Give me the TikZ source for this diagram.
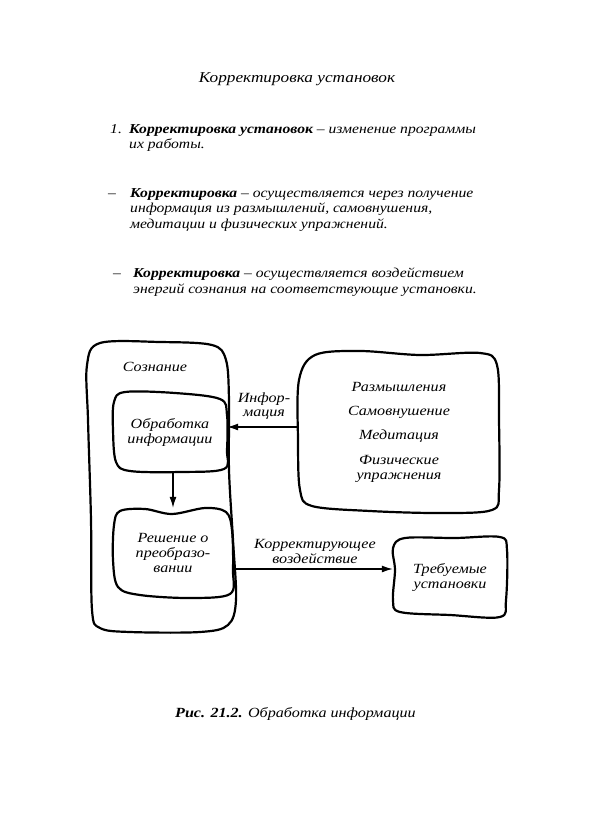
\documentclass[tikz,border=0pt]{standalone}
\usepackage{fontspec}
\setmainfont{Liberation Serif}[FakeStretch=1.15]
\usetikzlibrary{arrows.meta}
\begin{document}
\begin{tikzpicture}[x=1pt,y=-1pt,
  txt/.style={font=\fontsize{13.6}{15}\selectfont\itshape, inner sep=0pt, anchor=base west},
  boxtxt/.style={font=\fontsize{14}{15}\selectfont\itshape, inner sep=0pt, align=center, draw=none},
  outline/.style={line width=2.2pt, line join=round},
  arr/.style={line width=1.3pt, -{Latex[length=11pt,width=7pt]}}]
\useasboundingbox[fill=white] (0,0) rectangle (591,820);

% header text
\node[txt, anchor=base, font=\fontsize{15}{16}\selectfont\itshape] (title) at (297,82) {Корректировка установок};
\node[txt] (t1n) at (110,133) {1.};
\node[txt] (t1a) at (129,133) {\textbf{Корректировка установок} – изменение программы};
\node[txt] (t1b) at (129,148.3) {их работы.};
\node[txt] (t2d) at (108,197) {–};
\node[txt] (t2a) at (130,197) {\textbf{Корректировка} – осуществляется через получение};
\node[txt] (t2b) at (130,212.5) {информация из размышлений, самовнушения,};
\node[txt] (t2c) at (130,228) {медитации и физических упражнений.};
\node[txt] (t3d) at (113,277) {–};
\node[txt] (t3a) at (133,277) {\textbf{Корректировка} – осуществляется воздействием};
\node[txt] (t3b) at (133,293) {энергий сознания на соответствующие установки.};

% boxes (named nodes) and their outlines
\node[boxtxt, minimum width=149pt, minimum height=290pt] (soz) at (161.5,487) {};
\node[txt, anchor=base, font=\fontsize{14}{15}\selectfont\itshape] (sozl) at (155,371) {Сознание};
\draw[outline] plot[smooth cycle, tension=0.55] coordinates {
  (100,343) (160,342) (212,345) (226,360) (229,400) (229,470) (233,540) (236,600)
  (228,625) (200,632) (130,632) (100,628) (92,610) (91,520) (88,420) (87,365)};

\node[boxtxt, minimum width=114pt, minimum height=80pt] (obr) at (170,432) {Обработка\\информации};
\draw[outline] plot[smooth cycle, tension=0.55] coordinates {
  (125,392) (175,393) (220,399) (227,415) (227,450) (224,469) (180,472) (130,471)
  (116,462) (113,430) (114,402)};

\node[boxtxt, minimum width=120pt, minimum height=90pt] (resh) at (173,553) {Решение о\\преобразо-\\вании};
\draw[outline] plot[smooth cycle, tension=0.55] coordinates {
  (120,511) (145,509) (172,514) (205,508) (226,512) (232,530) (233,570) (230,594)
  (190,598) (140,595) (118,587) (113,560) (114,525)};

\node[boxtxt, minimum width=201pt, minimum height=161pt] (ras) at (399,432)
  {Размышления\\[9pt]Самовнушение\\[9pt]Медитация\\[10pt]Физические\\упражнения};
\draw[outline] plot[smooth cycle, tension=0.55] coordinates {
  (315,355) (360,351) (420,355) (480,353) (497,365) (499,420) (499,490) (492,510)
  (440,513) (370,511) (312,506) (300,490) (298,440) (299,380)};

\node[boxtxt, minimum width=114pt, minimum height=80pt] (treb) at (450,577) {Требуемые\\установки};
\draw[outline] plot[smooth cycle, tension=0.55] coordinates {
  (405,538) (455,538) (500,537) (507,550) (506,600) (500,617) (450,615) (400,612)
  (393,600) (395,570) (393,548)};

% connectors
\draw[arr] ([yshift=5pt]ras.west) -- ([yshift=5pt]ras.west -| obr.east);
\draw[arr] ([xshift=3pt]obr.south) -- ([xshift=3pt]obr.south |- resh.north);
\draw[arr] ([yshift=-16pt]resh.east) -- ([yshift=-16pt]resh.east -| treb.west);

% connector labels
\node[boxtxt, font=\fontsize{14}{13.5}\selectfont\itshape] (inf) at (264,406) {Инфор-\\мация};
\node[boxtxt] (korr) at (315,551) {Корректирующее\\воздействие};

% caption
\node[txt, font=\fontsize{14}{15}\selectfont\itshape] (cap) at (175,717) {\textbf{Рис. 21.2.} Обработка информации};
\end{tikzpicture}
\end{document}
